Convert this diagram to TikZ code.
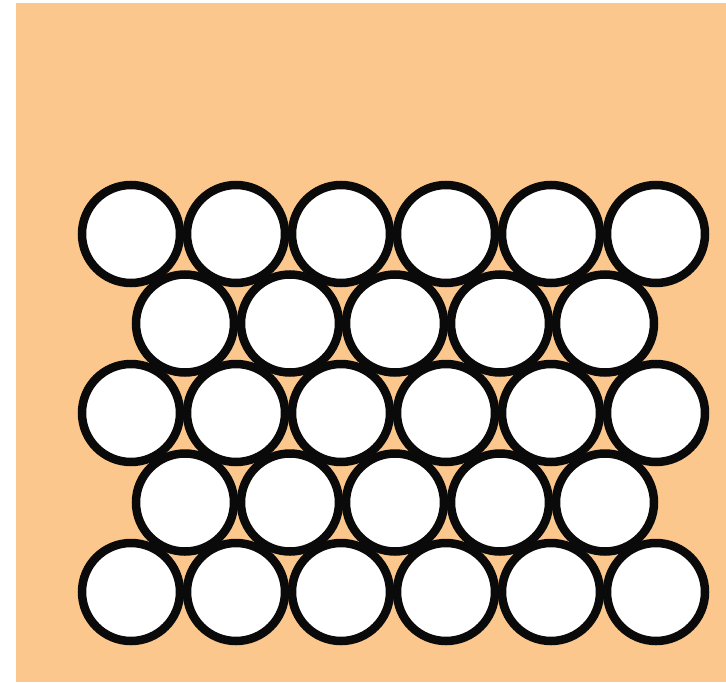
\documentclass[tikz,border=0pt]{standalone}
\definecolor{sand}{HTML}{FCC78C}
\definecolor{ink}{HTML}{0A0A0A}
\tikzset{
  ball/.style={circle,draw=ink,fill=white,line width=8.5pt,
    minimum size=98pt,inner sep=0pt}
}

\begin{document}
\begin{tikzpicture}[x=1pt,y=-1pt]
  \useasboundingbox (0,0) rectangle (726,683);
  \fill[white] (0,0) rectangle (726,683);
  \fill[sand] (16,3) rectangle (726,682);

  \foreach \r in {1,3,5}
    \foreach \c in {1,...,6}
      \node[ball] (b-\r-\c) at ({131+105*(\c-1)},{234+89.5*(\r-1)}) {};

  \foreach \r in {2,4}
    \foreach \c in {1,...,5}
      \node[ball] (b-\r-\c) at ({185+105*(\c-1)},{234+89.5*(\r-1)}) {};
\end{tikzpicture}
\end{document}
